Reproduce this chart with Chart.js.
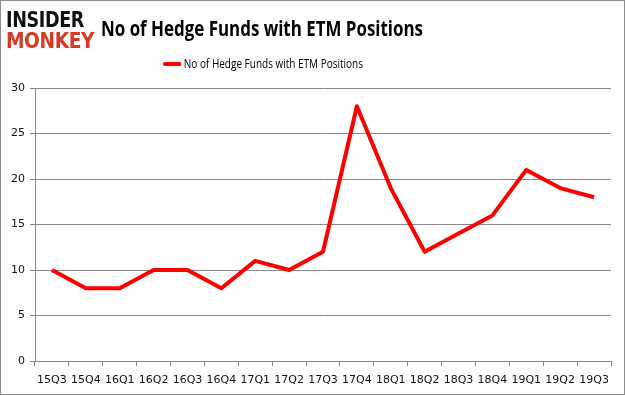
<!DOCTYPE html>
<html><head><meta charset="utf-8">
<script src="https://cdn.jsdelivr.net/npm/chart.js@4/dist/chart.umd.min.js"></script>
<style>
html,body{margin:0;padding:0;background:#fff;}
#wrap{position:relative;width:625px;height:395px;box-sizing:border-box;border:1px solid #8c8c8c;background:#fff;overflow:hidden;}
#c{position:absolute;left:0;top:0;}
.fit{position:absolute;white-space:nowrap;transform-origin:0 0;}
#logo1{left:5px;top:6px;font:900 22px "DejaVu Sans";color:#111;letter-spacing:-0.5px;}
#logo2{left:5px;top:27px;font:900 22px "DejaVu Sans";color:#d63a26;letter-spacing:-0.5px;}
#title{left:100px;top:13px;font:bold 21px "Open Sans";color:#000;}
#legend{left:162px;top:54px;font:12.5px "Open Sans";color:#000;display:flex;align-items:center;}
#legend span.ln{display:inline-block;width:23px;height:4px;background:#ff0000;border-radius:2px;margin-right:3px;}
</style></head>
<body>
<div id="wrap">
<canvas id="c" width="623" height="393"></canvas>
<div id="logo1" class="fit" data-w="78">INSIDER</div>
<div id="logo2" class="fit" data-w="88">MONKEY</div>
<div id="title" class="fit" data-w="322">No of Hedge Funds with ETM Positions</div>
<div id="legend" class="fit"><span class="ln"></span><span id="legtxt">No of Hedge Funds with ETM Positions</span></div>
</div>
<script>
const categories = ["15Q3","15Q4","16Q1","16Q2","16Q3","16Q4","17Q1","17Q2","17Q3","17Q4","18Q1","18Q2","18Q3","18Q4","19Q1","19Q2","19Q3"];
const hedgeFunds = [10,8,8,10,10,8,11,10,12,28,19,12,14,16,21,19,18];
const seriesName = "No of Hedge Funds with ETM Positions";
const yTicks = [0,5,10,15,20,25,30];

document.querySelectorAll('.fit[data-w]').forEach(el=>{
  const w = el.getBoundingClientRect().width;
  el.style.transform = 'scaleX(' + (parseFloat(el.dataset.w)/w) + ')';
});
(function(){
  const el=document.getElementById('legend');
  const w=el.getBoundingClientRect().width;
  el.style.transform='scaleX('+(200/w)+')';
})();

new Chart(document.getElementById('c'), {
  type: 'line',
  data: {
    labels: categories,
    datasets: [{
      label: seriesName,
      data: hedgeFunds,
      borderColor: '#ff0000',
      backgroundColor: '#ff0000',
      borderWidth: 4,
      pointRadius: 0,
      tension: 0,
      borderJoinStyle: 'round'
    }]
  },
  options: {
    responsive: false,
    animation: false,
    layout: { padding: { top: 87, right: 13, left: 0, bottom: 0 } },
    plugins: { legend: { display: false }, title: { display: false }, tooltip: { enabled: false } },
    scales: {
      x: {
        offset: true,
        grid: { display: true, drawOnChartArea: false, drawTicks: true, tickLength: 5, color: '#888', offset: true },
        border: { color: '#888' },
        ticks: { color: '#111', font: { family: 'DejaVu Sans', size: 11 }, maxRotation: 0, autoSkip: false, padding: 8 },
        afterFit: s => { s.height = 33; }
      },
      y: {
        min: 0, max: 30,
        afterBuildTicks: s => { s.ticks = yTicks.map(v => ({ value: v })); },
        grid: { color: '#888', tickLength: 5, drawTicks: true },
        border: { color: '#888' },
        ticks: { color: '#111', font: { family: 'DejaVu Sans', size: 11 }, padding: 5 },
        afterFit: s => { s.width = 34; }
      }
    }
  }
});
</script>
</body></html>
